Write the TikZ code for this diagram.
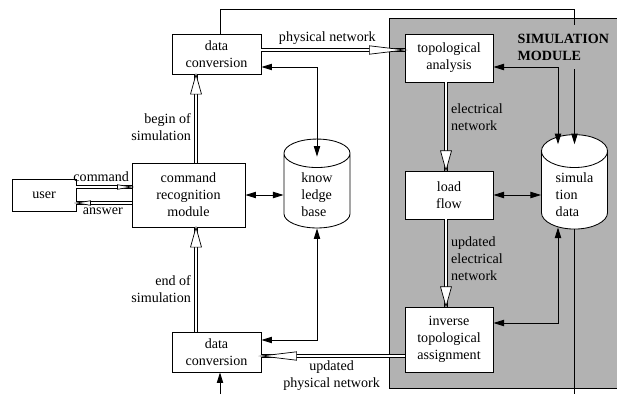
\documentclass[tikz,border=0pt]{standalone}
\usepackage{fontspec}
\setmainfont{Liberation Serif}
\usetikzlibrary{arrows.meta,calc,decorations.markings,shapes.geometric}

\tikzset{
    box/.style={draw, fill=white, line width=.6pt, align=center},
    store/.style={draw, fill=white, line width=.6pt, cylinder, shape border rotate=90,
        aspect=.7, align=left, minimum width=46.9pt, minimum height=61.8pt},
    link/.style={line width=.6pt, {Triangle[length=7.5pt,width=4.5pt]}-{Triangle[length=7.5pt,width=4.5pt]}},
    feed/.style={line width=.6pt, -{Triangle[length=7.5pt,width=4.5pt]}},
    % double line with a hollow head: head length, head half width, gap
    pipe/.style n args={3}{double, double distance=#3, line width=.6pt,
        postaction={decorate, decoration={markings, mark=at position 1 with
            {\draw[line width=.5pt, fill=white] (0,0) -- (-#1,#2) -- (-#1,-#2) -- cycle;}}}},
}

\begin{document}
\begin{tikzpicture}[x=0.71pt, y=-0.71pt]
    \useasboundingbox (0,0) rectangle (617,394);

    % Draw the simulation module
    \fill[black!30] (389,18) rectangle (622,388);
    \draw[line width=.6pt] (622,18) -| (389,388) -- (622,388);

    % Draw the blocks
    \node[box, minimum width=45.4pt, minimum height=22.7pt] (user) at (44,195) {user};
    \node[box, minimum width=80.2pt, minimum height=45.4pt] (cmd) at (188.5,195) {command\\recognition\\module};
    \node[box, minimum width=63.2pt, minimum height=28.4pt] (dcTop) at (216.5,54) {data\\conversion};
    \node[box, minimum width=63.2pt, minimum height=28.4pt] (dcBot) at (216.5,352) {data\\conversion};
    \node[store] (kb) at (317,194.5) {know\\ledge\\base};

    \node[box, minimum width=62.5pt, minimum height=34.1pt] (topo) at (449,58) {topological\\analysis};
    \node[box, minimum width=62.5pt, minimum height=34.1pt] (load) at (449,195) {load\\flow};
    \node[box, minimum width=62.5pt, minimum height=46.2pt] (inv) at (449,339.5) {inverse\\topological\\assignment};
    \node[store] (sim) at (574.5,194.5) {simula\\tion\\data};

    % Loop back round the module
    \coordinate (loopout) at (574.5,394);
    \coordinate (loopin) at (220,394);
    \draw[feed] ($(dcTop.north)+(3.5,0)$) -- ++(0,-24) -| ($(sim.north)+(0,10)$);
    \draw[line width=.6pt] (sim.south) -- (loopout);
    \draw[feed] (loopin) -- (loopin |- dcBot.south);
    \node[fill=black!30, font=\bfseries, align=left, anchor=west, inner xsep=1pt, inner ysep=6pt]
        (title) at (516,47) {SIMULATION\\MODULE};

    % Draw user dialogue
    \draw[pipe={10pt}{1.6pt}{1.2pt}] ($(user.east)+(0,-8)$) coordinate (cmdin) -- (cmdin -| cmd.west)
        node[pos=.45, above] (lblcmd) {command};
    \draw[pipe={10pt}{1.6pt}{1.2pt}] ($(cmd.west)+(0,8)$) coordinate (ansout) -- (ansout -| user.east)
        node[pos=.52, below] (lblans) {answer};

    % Draw data flow
    \draw[pipe={14pt}{3.9pt}{2pt}] ($(cmd.north)+(7.5,0)$) coordinate (bos) -- (bos |- dcTop.south)
        node[pos=.4, left, align=right] (lblbos) {begin of\\simulation};
    \draw[pipe={14pt}{3.9pt}{2pt}] ($(dcBot.north)+(-20.5,0)$) coordinate (eos) -- (eos |- cmd.south)
        node[pos=.41, left, align=right] (lbleos) {end of\\simulation};
    \draw[pipe={25pt}{3pt}{2pt}] ($(dcTop.east)+(0,-4)$) coordinate (physout) -- (physout -| topo.west)
        node[pos=.46, above] (lblphys) {physical network};
    \draw[pipe={14pt}{3.9pt}{2pt}] ($(topo.south)+(-3,0)$) coordinate (elout) -- (elout |- load.north)
        node[pos=.39, right, align=left] (lblel) {electrical\\network};
    \draw[pipe={14pt}{3.9pt}{2pt}] ($(load.south)+(-3,0)$) coordinate (uelout) -- (uelout |- inv.north)
        node[pos=.45, right, align=left] (lbluel) {updated\\electrical\\network};
    \draw[pipe={25pt}{3pt}{2pt}] ($(inv.west)+(0,16.5)$) coordinate (uphys) -- (uphys -| dcBot.east)
        node[pos=.51, below, align=center] (lbluphys) {updated\\physical network};

    % Draw access to the data bases
    \draw[link] ($(dcTop.east)+(0,13)$) -| ($(kb.north)+(0,18)$);
    \draw[link] (cmd.east) -- (cmd.east -| kb.west);
    \draw[link] ($(dcBot.east)+(0,-12)$) -| (kb.south);
    \draw[link] ($(topo.east)+(0,9)$) -| ($(sim.north)+(-16.5,10)$);
    \draw[link] (load.east) -- (load.east -| sim.west);
    \draw[link] ($(inv.east)+(0,-16.5)$) -| ($(sim.south)+(-16.5,-2)$);
\end{tikzpicture}
\end{document}
